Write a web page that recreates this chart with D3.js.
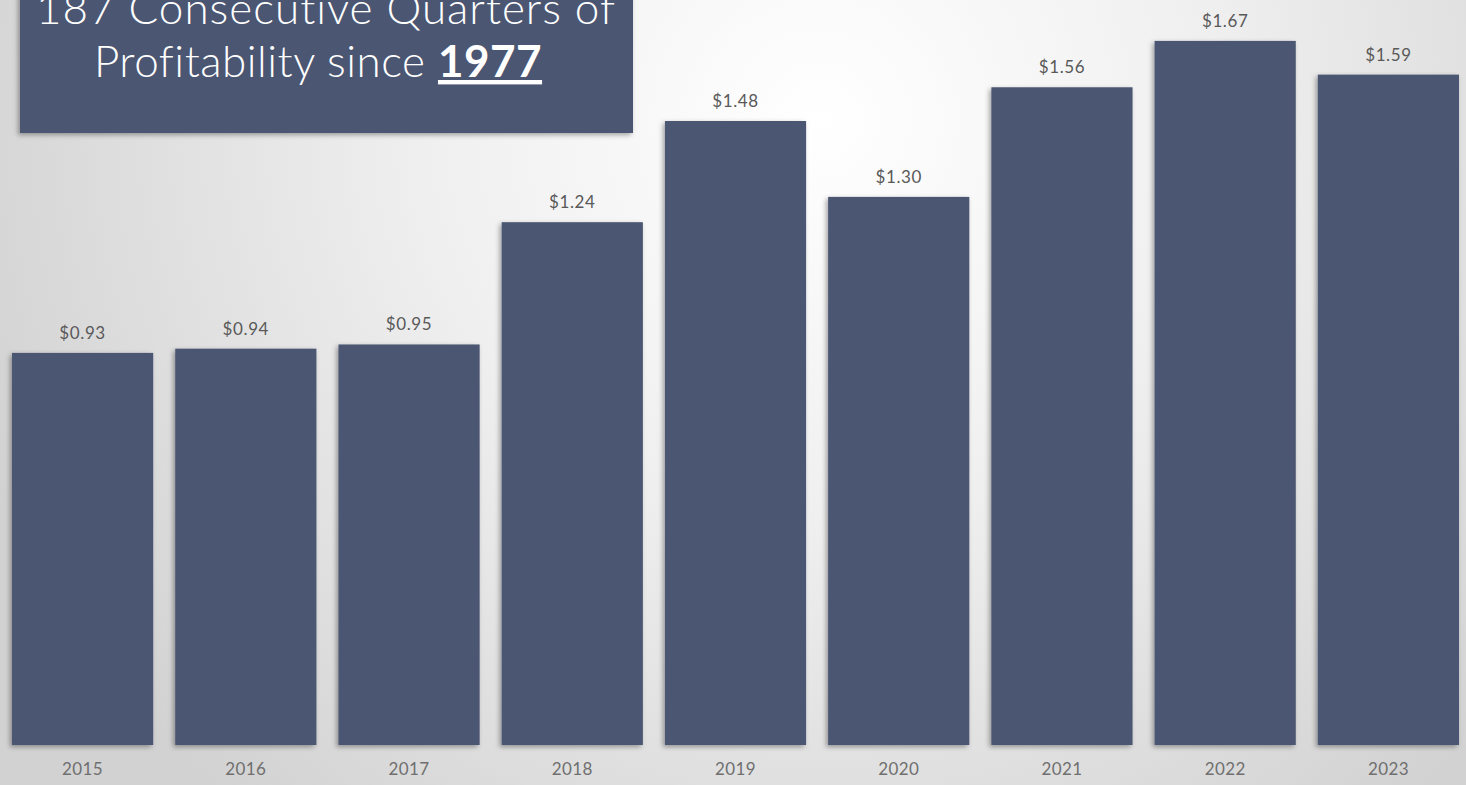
<!DOCTYPE html>
<html>
<head>
<meta charset="utf-8">
<script src="https://cdn.jsdelivr.net/npm/d3@7"></script>
<style>
  html, body { margin: 0; padding: 0; overflow: hidden; }
  body { width: 1466px; height: 785px; }
  svg { display: block; }
</style>
</head>
<body>
<svg id="chart" width="1466" height="785"></svg>
<script>
// Annual earnings per share, 2015–2023
const years = ["2015", "2016", "2017", "2018", "2019", "2020", "2021", "2022", "2023"];
const eps = [0.93, 0.94, 0.95, 1.24, 1.48, 1.30, 1.56, 1.67, 1.59];
const valueLabels = ["$0.93", "$0.94", "$0.95", "$1.24", "$1.48", "$1.30", "$1.56", "$1.67", "$1.59"];
const titleLine1 = "187 Consecutive Quarters of";
const titleLine2 = "Profitability since ";
const titleYear = "1977";

const W = 1466, H = 785;
const barColor = "#4b5672";
const fontFamily = "'Lato', 'Noto Sans', sans-serif";

const svg = d3.select("#chart");
const defs = svg.append("defs");

// soft light-gray backdrop, brightest near the upper middle
const bg = defs.append("radialGradient")
  .attr("id", "bg").attr("gradientUnits", "userSpaceOnUse")
  .attr("cx", 820).attr("cy", 120).attr("r", 900);
bg.append("stop").attr("offset", "0%").attr("stop-color", "#ffffff");
bg.append("stop").attr("offset", "45%").attr("stop-color", "#efefef");
bg.append("stop").attr("offset", "100%").attr("stop-color", "#d2d2d2");

const shadow = defs.append("filter").attr("id", "shadow")
  .attr("x", "-10%").attr("y", "-10%").attr("width", "120%").attr("height", "120%");
shadow.append("feDropShadow").attr("dx", -2).attr("dy", 2)
  .attr("stdDeviation", 2.5).attr("flood-color", "#000").attr("flood-opacity", 0.35);

svg.append("rect").attr("width", W).attr("height", H).attr("fill", "url(#bg)");

const x = d3.scaleBand().domain(years).range([12, 1459])
  .paddingInner(0.135).paddingOuter(0);
const y = d3.scaleLinear().domain([0, 1.767]).range([745, 0]);

const g = svg.append("g");

g.selectAll("rect.bar").data(eps).join("rect")
  .attr("class", "bar")
  .attr("x", (d, i) => x(years[i]))
  .attr("y", d => y(d))
  .attr("width", x.bandwidth())
  .attr("height", d => y(0) - y(d))
  .attr("fill", barColor)
  .attr("filter", "url(#shadow)");

g.selectAll("text.val").data(eps).join("text")
  .attr("class", "val")
  .attr("x", (d, i) => x(years[i]) + x.bandwidth() / 2)
  .attr("y", d => y(d) - 14)
  .attr("text-anchor", "middle")
  .attr("font-family", fontFamily)
  .attr("font-size", 17)
  .attr("letter-spacing", 0.6)
  .attr("fill", "#595959")
  .text((d, i) => valueLabels[i]);

// category axis along the bottom, no line or ticks
const xAxis = svg.append("g")
  .attr("transform", `translate(0,${y(0)})`)
  .call(d3.axisBottom(x).tickSize(0).tickPadding(18));
xAxis.select(".domain").remove();
xAxis.selectAll("text")
  .attr("font-family", fontFamily)
  .attr("font-size", 17)
  .attr("letter-spacing", 0.4)
  .attr("fill", "#6f6f6f");

// headline panel in the upper left
svg.append("rect")
  .attr("x", 20).attr("y", -20).attr("width", 613).attr("height", 153)
  .attr("fill", barColor)
  .attr("filter", "url(#shadow)");

const title = svg.append("g")
  .attr("font-family", fontFamily)
  .attr("fill", "#ffffff")
  .attr("text-anchor", "middle");

title.append("text")
  .attr("x", 326).attr("y", 24)
  .attr("font-size", 44)
  .attr("font-weight", 300)
  .attr("letter-spacing", 1)
  .text(titleLine1);

const line2 = title.append("text")
  .attr("x", 318).attr("y", 77)
  .attr("font-size", 44)
  .attr("font-weight", 300)
  .attr("letter-spacing", 0.5);
line2.append("tspan").text(titleLine2);
line2.append("tspan")
  .attr("font-weight", 700)
  .attr("text-decoration", "underline")
  .text(titleYear);
</script>
</body>
</html>
